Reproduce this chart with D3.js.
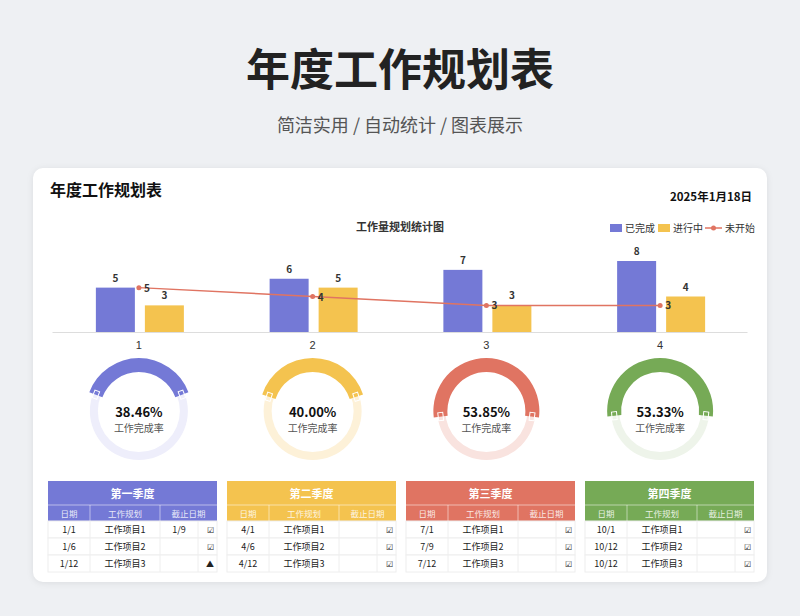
<!DOCTYPE html>
<html><head><meta charset="utf-8">
<script src="https://cdn.jsdelivr.net/npm/d3@7"></script>
<style>
body{margin:0;background:#eef0f3;font-family:"Noto Sans CJK SC","Noto Sans",sans-serif;}
</style></head>
<body><svg id="c" width="800" height="616"></svg>
<script>
const quarters = ["1", "2", "3", "4"];
const done = [5, 6, 7, 8];
const doing = [3, 5, 3, 4];
const notStarted = [5, 4, 3, 3];
const qColors = ["#7479d6", "#f4c34f", "#e07462", "#76aa56"];
const qTrack = ["#eeeefb", "#fdf1d8", "#f9e3df", "#eef4ea"];
const qNames = ["第一季度", "第二季度", "第三季度", "第四季度"];
const colHeads = ["日期", "工作规划", "截止日期"];
const rows = [
  [["1/1","工作项目1","1/9","☑"],["1/6","工作项目2","","☑"],["1/12","工作项目3","","▲"]],
  [["4/1","工作项目1","","☑"],["4/6","工作项目2","","☑"],["4/12","工作项目3","","☑"]],
  [["7/1","工作项目1","","☑"],["7/9","工作项目2","","☑"],["7/12","工作项目3","","☑"]],
  [["10/1","工作项目1","","☑"],["10/12","工作项目2","","☑"],["10/12","工作项目3","","☑"]]
];

const svg = d3.select("#c");
svg.append("text").attr("x",400).attr("y",86).attr("text-anchor","middle")
  .attr("font-size",44).attr("font-weight",700).attr("fill","#222").text("年度工作规划表");
svg.append("text").attr("x",400).attr("y",132).attr("text-anchor","middle")
  .attr("font-size",18).attr("fill","#555").text("简洁实用 / 自动统计 / 图表展示");

svg.append("rect").attr("x",33).attr("y",168).attr("width",734).attr("height",414)
  .attr("rx",10).attr("fill","#fff").style("filter","drop-shadow(0 1px 3px rgba(0,0,0,0.08))");
svg.append("text").attr("x",50).attr("y",196).attr("font-size",16).attr("font-weight",700)
  .attr("fill","#111").text("年度工作规划表");
svg.append("text").attr("x",752).attr("y",201).attr("text-anchor","end").attr("font-size",11.5)
  .attr("font-weight",700).attr("fill","#111").text("2025年1月18日");

// bar chart
const x = d3.scaleBand().domain(quarters).range([52, 747]);
const y = d3.scaleLinear().domain([0, 8]).range([332, 261]);
svg.append("text").attr("x",400).attr("y",231).attr("text-anchor","middle").attr("font-size",11)
  .attr("font-weight",700).attr("fill","#333").text("工作量规划统计图");
const lg = svg.append("g").attr("font-size",10).attr("fill","#333");
lg.append("rect").attr("x",610).attr("y",224).attr("width",12).attr("height",8).attr("fill",qColors[0]);
lg.append("text").attr("x",625).attr("y",232).text("已完成");
lg.append("rect").attr("x",658).attr("y",224).attr("width",12).attr("height",8).attr("fill",qColors[1]);
lg.append("text").attr("x",673).attr("y",232).text("进行中");
lg.append("line").attr("x1",705).attr("x2",722).attr("y1",228).attr("y2",228).attr("stroke",qColors[2]).attr("stroke-width",1.5);
lg.append("circle").attr("cx",713.5).attr("cy",228).attr("r",2.5).attr("fill",qColors[2]);
lg.append("text").attr("x",725).attr("y",232).text("未开始");

const cx = d => x(d) + x.bandwidth()/2;
const bw = 39;
svg.append("g").attr("transform","translate(0,332)")
  .call(d3.axisBottom(x).tickSize(0).tickPadding(9))
  .call(g => g.select(".domain").attr("stroke","#ddd"))
  .call(g => g.selectAll("text").attr("font-size",11).attr("fill","#333"));
[[done,qColors[0],-43],[doing,qColors[1],6]].forEach(([vals,col,off]) => {
  svg.append("g").selectAll("rect").data(vals).join("rect")
    .attr("x",(d,i)=>cx(quarters[i])+off).attr("width",bw)
    .attr("y",d=>y(d)).attr("height",d=>332-y(d)).attr("fill",col);
  svg.append("g").selectAll("text").data(vals).join("text")
    .attr("x",(d,i)=>cx(quarters[i])+off+bw/2).attr("y",d=>y(d)-6)
    .attr("text-anchor","middle").attr("font-size",10).attr("font-weight",700).attr("fill","#333").text(d=>d);
});
const line = d3.line().x((d,i)=>cx(quarters[i])).y(d=>y(d));
svg.append("path").datum(notStarted).attr("d",line).attr("fill","none")
  .attr("stroke",qColors[2]).attr("stroke-width",1.5);
svg.append("g").selectAll("circle").data(notStarted).join("circle")
  .attr("cx",(d,i)=>cx(quarters[i])).attr("cy",d=>y(d)).attr("r",2.5).attr("fill",qColors[2]);
svg.append("g").selectAll("text").data(notStarted).join("text")
  .attr("x",(d,i)=>cx(quarters[i])+5).attr("y",d=>y(d)+4)
  .attr("font-size",10).attr("font-weight",700).attr("fill","#333").text(d=>d);

// gauges
quarters.forEach((q,i) => {
  const p = done[i] / (done[i]+doing[i]+notStarted[i]);
  const a = p * Math.PI;
  const g = svg.append("g").attr("transform",`translate(${cx(q)},411)`);
  g.append("path").attr("d",d3.arc()({innerRadius:41,outerRadius:49,startAngle:0,endAngle:2*Math.PI})).attr("fill",qTrack[i]);
  g.append("path").attr("d",d3.arc()({innerRadius:39,outerRadius:53,startAngle:-a,endAngle:a})).attr("fill",qColors[i]);
  [-a, a].forEach(t => {
    const r = 46;
    g.append("rect").attr("x",-4).attr("y",-2.5).attr("width",8).attr("height",5)
      .attr("fill","none").attr("stroke","#fff").attr("stroke-width",1)
      .attr("transform",`translate(${r*Math.sin(t)},${-r*Math.cos(t)}) rotate(${t*180/Math.PI})`);
  });
  g.append("text").attr("y",6).attr("text-anchor","middle").attr("font-size",13).attr("font-weight",700)
    .attr("fill","#111").text((p*100).toFixed(2)+"%");
  g.append("text").attr("y",21).attr("text-anchor","middle").attr("font-size",10).attr("fill","#555").text("工作完成率");
});

// tables
const tx = [48, 227, 406, 585];
const cols = [0, 42, 112, 150, 169];
quarters.forEach((q,i) => {
  const g = svg.append("g").attr("transform",`translate(${tx[i]},481)`);
  g.append("rect").attr("width",169).attr("height",40).attr("fill",qColors[i]);
  g.append("text").attr("x",84.5).attr("y",17).attr("text-anchor","middle").attr("font-size",11)
    .attr("font-weight",700).attr("fill","#fff").text(qNames[i]);
  g.append("line").attr("x1",0).attr("x2",169).attr("y1",24).attr("y2",24).attr("stroke","rgba(255,255,255,0.5)");
  [0,1,2].forEach(k => {
    const x0 = cols[k], x1 = k===2 ? 169 : cols[k+1];
    g.append("text").attr("x",(x0+x1)/2).attr("y",36).attr("text-anchor","middle").attr("font-size",8.5)
      .attr("fill","rgba(255,255,255,0.85)").text(colHeads[k]);
    if (k>0) g.append("line").attr("x1",x0).attr("x2",x0).attr("y1",24).attr("y2",40).attr("stroke","rgba(255,255,255,0.5)");
  });
  rows[i].forEach((r,j) => {
    const yy = 40 + j*17;
    g.append("rect").attr("y",yy).attr("width",169).attr("height",17).attr("fill","#fff").attr("stroke","#eee");
    [1,2,3].forEach(k => g.append("line").attr("x1",cols[k]).attr("x2",cols[k]).attr("y1",yy).attr("y2",yy+17).attr("stroke","#eee"));
    r.forEach((t,k) => {
      g.append("text").attr("x",k===3 ? 162 : (cols[k]+cols[k+1])/2).attr("y",yy+12)
        .attr("text-anchor","middle").attr("font-size",k===3?8:9).attr("fill","#222").text(t);
    });
  });
});
</script></body></html>
